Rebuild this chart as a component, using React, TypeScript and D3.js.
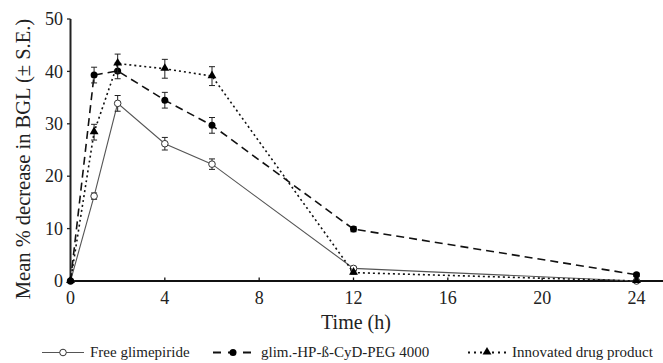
import React from "react";
import * as d3 from "d3";

const times = [0, 1, 2, 4, 6, 12, 24];
const freeGlim = [0, 16.2, 33.9, 26.2, 22.3, 2.4, 0];
const freeGlimSE = [0, 0.6, 1.5, 1.2, 1.0, 0.4, 0];
const glimHP = [0, 39.3, 40.1, 34.5, 29.7, 9.9, 1.2];
const glimHPSE = [0, 1.5, 1.5, 1.5, 1.5, 0.5, 0.3];
const innovated = [0, 28.4, 41.5, 40.5, 39.1, 1.6, 0];
const innovatedSE = [0, 1.5, 1.8, 1.8, 1.8, 0.3, 0];

const xTicks = [0, 4, 8, 12, 16, 20, 24];
const yTicks = [0, 10, 20, 30, 40, 50];

const seriesNames = ["Free glimepiride", "glim.-HP-ß-CyD-PEG 4000", "Innovated drug product"];

const W = 663;
const H = 363;
const FONT = "Liberation Serif";

export default function App() {
  const x = d3.scaleLinear().domain([0, 24]).range([70.5, 636.5]);
  const y = d3.scaleLinear().domain([0, 50]).range([281, 19]);

  const series = [
    { name: seriesNames[0], vals: freeGlim, se: freeGlimSE, dash: "", color: "#555", width: 1.1, marker: "openCircle" },
    { name: seriesNames[1], vals: glimHP, se: glimHPSE, dash: "8,5", color: "#111", width: 1.6, marker: "circle" },
    { name: seriesNames[2], vals: innovated, se: innovatedSE, dash: "2,3", color: "#111", width: 1.6, marker: "triangle" },
  ];

  const line = d3
    .line<[number, number]>()
    .x((d) => x(d[0]))
    .y((d) => y(d[1]));

  const tri = d3.symbol().type(d3.symbolTriangle).size(34)() as string;

  const drawMarker = (m: string, cx: number, cy: number, key: string) => {
    if (m === "openCircle")
      return <circle key={key} cx={cx} cy={cy} r={3.3} fill="#fff" stroke="#333" strokeWidth={1} />;
    if (m === "circle") return <circle key={key} cx={cx} cy={cy} r={3.5} fill="#000" />;
    return <path key={key} d={tri} transform={`translate(${cx},${cy - 0.5})`} fill="#000" />;
  };

  const legendItems = [
    { x0: 42, x1: 84, mx: 63, tx: 90 },
    { x0: 213, x1: 253, mx: 233, tx: 261 },
    { x0: 468, x1: 507, mx: 487, tx: 512 },
  ];
  const ly = 352.5;
  const tStyle = { fontFamily: FONT };

  return (
    <svg width={W} height={H} style={{ position: "absolute", left: 0, top: 0, background: "#fff" }}>
      <rect width={W} height={H} fill="#fff" />
      {/* Y axis */}
      <line x1={70.5} x2={70.5} y1={y(50)} y2={y(0)} stroke="#222" strokeWidth={2} />
      {yTicks.map((t) => (
        <g key={"yt" + t}>
          <line x1={67} x2={70.5} y1={y(t)} y2={y(t)} stroke="#222" strokeWidth={1.3} />
          <text x={63} y={y(t)} dy="0.34em" textAnchor="end" style={tStyle} fontSize={18} fill="#222">
            {t}
          </text>
        </g>
      ))}
      {/* X axis */}
      <line x1={70} x2={663} y1={y(0)} y2={y(0)} stroke="#111" strokeWidth={1.8} />
      {xTicks.map((t) => (
        <g key={"xt" + t}>
          <line x1={x(t)} x2={x(t)} y1={y(0)} y2={y(0) - 3.5} stroke="#111" strokeWidth={1.3} />
          <text x={x(t)} y={304} textAnchor="middle" style={tStyle} fontSize={18} fill="#222">
            {t}
          </text>
        </g>
      ))}
      <text x={356} y={329} textAnchor="middle" style={tStyle} fontSize={20} fill="#222">
        Time (h)
      </text>
      <text
        transform={`translate(30,159) rotate(-90)`}
        textAnchor="middle"
        style={tStyle}
        fontSize={20.5}
        fill="#222"
      >
        Mean % decrease in BGL (± S.E.)
      </text>

      {/* series */}
      {series.map((s, si) => (
        <g key={"s" + si}>
          <path
            d={line(times.map((t, i) => [t, s.vals[i]] as [number, number])) as string}
            fill="none"
            stroke={s.color}
            strokeWidth={s.width}
            strokeDasharray={s.dash}
          />
          {times.map((t, i) =>
            s.se[i] > 0.25 ? (
              <g key={"e" + i} stroke="#222" strokeWidth={1}>
                <line x1={x(t)} x2={x(t)} y1={y(s.vals[i] - s.se[i])} y2={y(s.vals[i] + s.se[i])} />
                <line x1={x(t) - 3} x2={x(t) + 3} y1={y(s.vals[i] + s.se[i])} y2={y(s.vals[i] + s.se[i])} />
                <line x1={x(t) - 3} x2={x(t) + 3} y1={y(s.vals[i] - s.se[i])} y2={y(s.vals[i] - s.se[i])} />
              </g>
            ) : null
          )}
          {times.map((t, i) => drawMarker(s.marker, x(t), y(s.vals[i]), "m" + i))}
        </g>
      ))}

      {/* legend */}
      {series.map((s, si) => {
        const L = legendItems[si];
        return (
          <g key={"l" + si}>
            <line
              x1={L.x0}
              x2={L.x1}
              y1={ly}
              y2={ly}
              stroke={s.color}
              strokeWidth={si === 0 ? 1.1 : 2}
              strokeDasharray={si === 1 ? "8,7" : si === 2 ? "2,4" : ""}
            />
            {drawMarker(s.marker, L.mx, ly, "lm")}
            <text x={L.tx} y={ly} dy="0.33em" style={tStyle} fontSize={15} fill="#222">
              {s.name}
            </text>
          </g>
        );
      })}
    </svg>
  );
}
